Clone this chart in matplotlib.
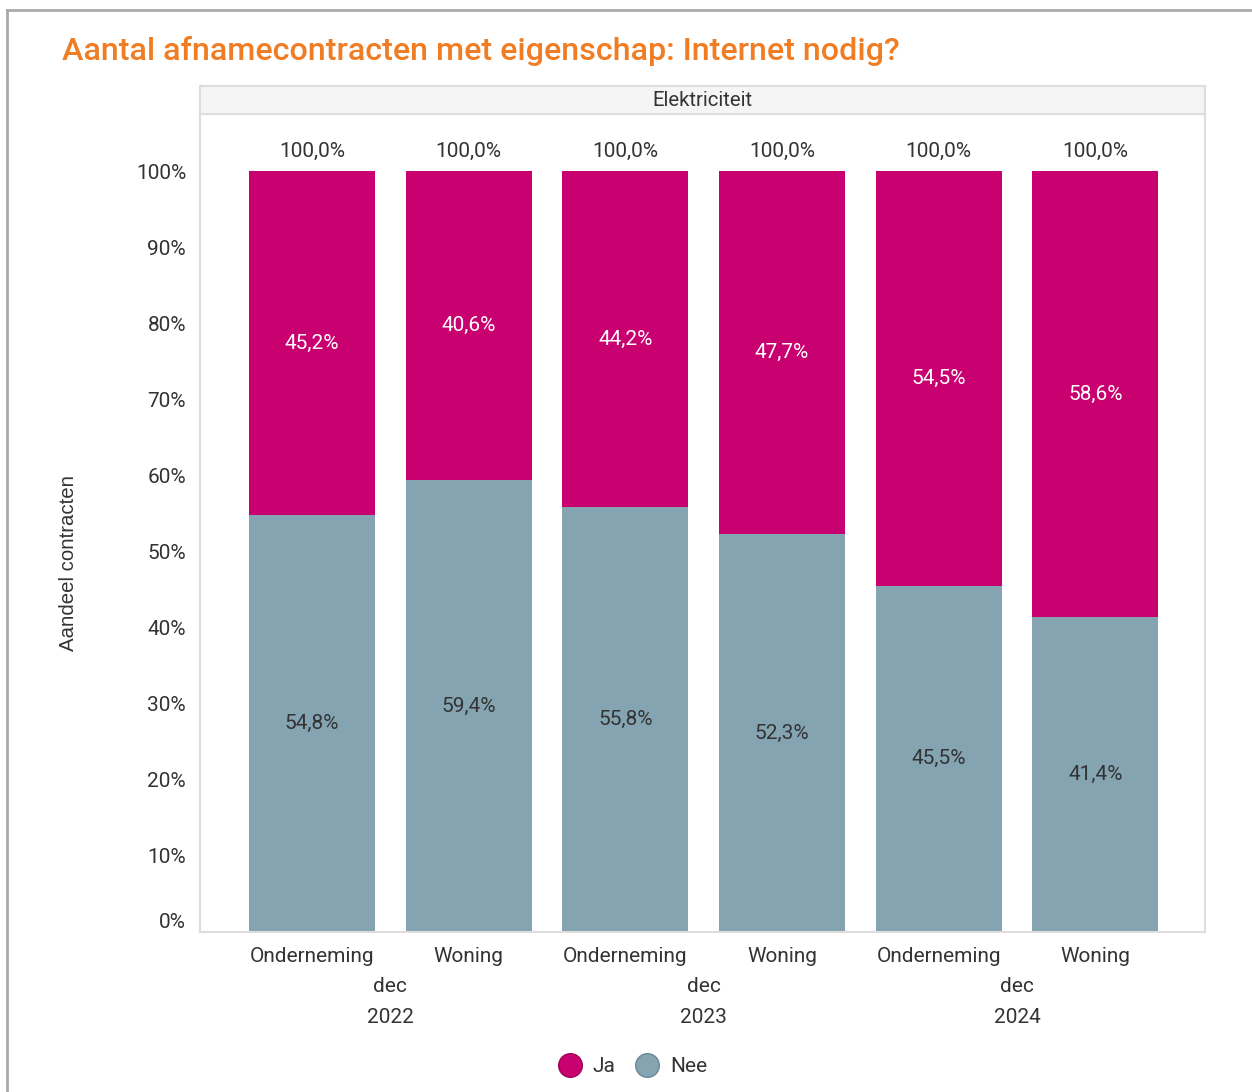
import numpy as np
import matplotlib
matplotlib.use("Agg")
import matplotlib.pyplot as plt
from matplotlib.lines import Line2D

plt.rcParams['font.family'] = ['Roboto', 'DejaVu Sans']

categories = ["Onderneming", "Woning", "Onderneming", "Woning", "Onderneming", "Woning"]
periods = ["dec\n2022", "dec\n2023", "dec\n2024"]
nee = [54.8, 59.4, 55.8, 52.3, 45.5, 41.4]
ja = [45.2, 40.6, 44.2, 47.7, 54.5, 58.6]
totals = [100.0] * 6
yticks = [0, 10, 20, 30, 40, 50, 60, 70, 80, 90, 100]

c_ja = "#c9006f"
c_nee = "#84a4b2"
c_text = "#333333"
c_frame = "#dddddd"
fs = 15

def fmt(v):
    return f"{v:.1f}%".replace(".", ",")

fig = plt.figure(figsize=(12.52, 10.92), dpi=100)
W, H = 1252, 1092

# outer frame (left + top edge)
fig.add_artist(Line2D([7 / W, 7 / W], [0, 1 - 10 / H], color="#aaaaaa", lw=2))
fig.add_artist(Line2D([7 / W, 1], [1 - 10 / H, 1 - 10 / H], color="#aaaaaa", lw=2))

fig.text(62 / W, 1 - 51 / H, "Aantal afnamecontracten met eigenschap: Internet nodig?",
         color="#f07d23", fontsize=23.2, fontweight="medium", va="center", ha="left")

ax = fig.add_axes([200 / W, 1 - 932 / H, 1005 / W, 818 / H])
x = np.arange(len(categories))
bw = 0.805
ax.bar(x, nee, bw, color=c_nee)
ax.bar(x, ja, bw, bottom=nee, color=c_ja)

for i in range(len(x)):
    ax.text(x[i], nee[i] / 2, fmt(nee[i]), ha="center", va="center", color=c_text, fontsize=fs)
    ax.text(x[i], nee[i] + ja[i] / 2, fmt(ja[i]), ha="center", va="center", color="white", fontsize=fs)
    ax.text(x[i], totals[i] + 1.4, fmt(totals[i]), ha="center", va="bottom", color=c_text, fontsize=fs)

ax.set_xlim(-0.715, 5.70)
ax.set_ylim(0, 107.5)
ax.set_yticks(yticks)
ax.set_yticklabels([f"{t}%" for t in yticks], fontsize=fs, color=c_text)
ax.get_yticklabels()[0].set_va("bottom")
ax.set_xticks(x)
ax.set_xticklabels(categories, fontsize=fs, color=c_text)
ax.tick_params(axis="x", length=0, pad=11)
ax.tick_params(axis="y", length=0, pad=10)
for s in ax.spines.values():
    s.set_color(c_frame)
    s.set_linewidth(1.5)

for k, p in enumerate(periods):
    ax.text(2 * k + 0.5, -0.055, p, transform=ax.get_xaxis_transform(), ha="center", va="top",
            fontsize=fs, color=c_text, linespacing=1.8)

# facet strip
sax = fig.add_axes([200 / W, 1 - 114 / H, 1005 / W, 28 / H])
sax.set_facecolor("#f5f5f5")
sax.set_xticks([])
sax.set_yticks([])
for s in sax.spines.values():
    s.set_color(c_frame)
    s.set_linewidth(1.5)
sax.text(0.5, 0.5, "Elektriciteit", ha="center", va="center", fontsize=14.7, color=c_text,
         transform=sax.transAxes)

fig.text(68 / W, 1 - 563 / H, "Aandeel contracten", rotation=90, ha="center", va="center",
         fontsize=14.7, color=c_text, family=["Liberation Sans", "DejaVu Sans"])

handles = [Line2D([], [], marker="o", ls="", markersize=17, markerfacecolor=c_ja, markeredgecolor="#a0005a"),
           Line2D([], [], marker="o", ls="", markersize=17, markerfacecolor=c_nee, markeredgecolor="#6a8795")]
fig.legend(handles, ["Ja", "Nee"], loc="center", bbox_to_anchor=(628 / W, 1 - 1067 / H), ncol=2,
           frameon=False, fontsize=fs, handletextpad=0.1, columnspacing=0.5, labelcolor=c_text)

fig.savefig("out.png", dpi=100)
